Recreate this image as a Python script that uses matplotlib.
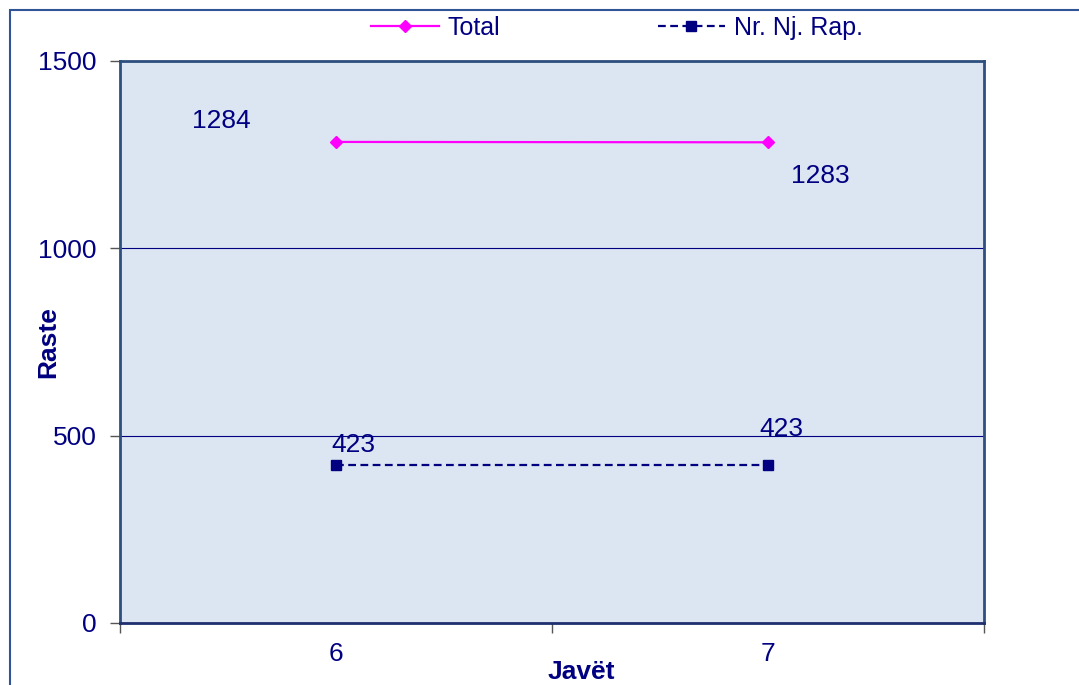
import numpy as np
import matplotlib
matplotlib.use("Agg")
import matplotlib.pyplot as plt
from matplotlib.patches import Rectangle

# data
weeks = ["6", "7"]
total = [1284, 1283]
nr_nj_rap = [423, 423]
y_ticks = [0, 500, 1000, 1500]

# label offsets in pixels (where Excel dropped the data labels)
total_offsets = [(-115, 21), (52, -34)]
rap_offsets = [(17, 20), (13, 36)]

navy = "#000080"
plt.rcParams["font.family"] = ["Liberation Sans", "DejaVu Sans"]
plt.rcParams["font.size"] = 19

fig = plt.figure(figsize=(10.79, 6.85), dpi=100)
ax = fig.add_axes([120 / 1079, 62 / 685, 864 / 1079, 562 / 685])

# outer chart-area border (extends beyond the crop on the right/bottom)
fig.patches.append(Rectangle((10 / 1079, -0.1), 2, 1 - 10 / 685 + 0.1,
                             transform=fig.transFigure, fill=False,
                             edgecolor="#2f5597", lw=1.5))

x = np.arange(len(weeks))
ax.set_facecolor("#dce6f2")
ax.plot(x, total, color="#ff00ff", lw=1.6, marker="D", markersize=6,
        label="Total", zorder=3)
ax.plot(x, nr_nj_rap, color=navy, lw=1.6, linestyle=(0, (3.5, 2)),
        marker="s", markersize=6.5, label="Nr. Nj. Rap.", zorder=3)

for xi, v, off in zip(x, total, total_offsets):
    ax.annotate(str(v), (xi, v), xytext=off, textcoords="offset pixels",
                ha="center", va="center", color=navy)
for xi, v, off in zip(x, nr_nj_rap, rap_offsets):
    ax.annotate(str(v), (xi, v), xytext=off, textcoords="offset pixels",
                ha="center", va="center", color=navy)

ax.set_xlim(-0.5, 1.5)
ax.set_ylim(0, 1500)
ax.set_yticks(y_ticks)
ax.yaxis.grid(True, color=navy, lw=0.8)
ax.set_axisbelow(True)

# category ticks between categories, labels centred on categories
ax.set_xticks([-0.5, 0.5, 1.5])
ax.set_xticklabels([])
ax.set_xticks(x, minor=True)
ax.set_xticklabels(weeks, minor=True)
ax.tick_params(axis="x", which="minor", length=0, pad=14, colors=navy)
ax.tick_params(axis="x", which="major", length=7, width=1, color="#555555")
ax.tick_params(axis="y", length=7, width=1, color="#555555", labelcolor=navy, pad=10)

for s in ax.spines.values():
    s.set_color("#2d4f7f")
    s.set_linewidth(2)
ax.spines["bottom"].set_color("#1f2f6f")

ax.set_ylabel("Raste", fontweight="bold", color=navy)
ax.yaxis.set_label_coords(-72 / 864, 0.5)
ax.yaxis.label.set_va("center")
ax.set_xlabel("Javët", fontweight="bold", color=navy)
ax.xaxis.set_label_coords(461 / 864, -49 / 562)
ax.xaxis.label.set_va("center")

fig.legend(loc="center", bbox_to_anchor=(617 / 1079, 1 - 28 / 685), ncol=2,
           frameon=False, handlelength=2.7, handletextpad=0.35,
           columnspacing=6.3, labelcolor=navy, fontsize=18)

fig.savefig("out.png", dpi=100)
